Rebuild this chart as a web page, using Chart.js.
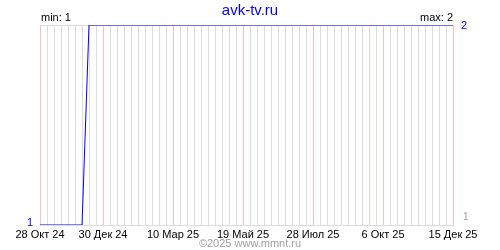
<!DOCTYPE html>
<html lang="ru">
<head>
<meta charset="UTF-8">
<title>avk-tv.ru</title>
<script src="https://cdn.jsdelivr.net/npm/chart.js"></script>
<style>
  body { margin: 0; background: #fff; }
  #wrap { width: 500px; height: 250px; }
</style>
</head>
<body>
<div id="wrap"><canvas id="graf" width="500" height="250"></canvas></div>
<script>
// данные графика
var startDate = '2024-10-28';
var endDate = '2025-12-15';
var dates = ['2024-10-28', '2024-12-09', '2024-12-16', '2025-12-15'];
var values = [1, 1, 2, 2];
var tickDates = ['2024-10-28', '2024-12-30', '2025-03-10', '2025-05-19', '2025-07-28', '2025-10-06', '2025-12-15'];
var tickLabels = ['28 Окт 24', '30 Дек 24', '10 Мар 25', '19 Май 25', '28 Июл 25', '6 Окт 25', '15 Дек 25'];
var titleText = 'avk-tv.ru';
var footerText = '©2025 www.mmnt.ru';

function dayOf(s) {
    var p = s.split('-');
    var t0 = startDate.split('-');
    return Math.round((Date.UTC(+p[0], p[1] - 1, +p[2]) - Date.UTC(+t0[0], t0[1] - 1, +t0[2])) / 86400000);
}

var points = dates.map(function(d, i) { return { x: dayOf(d), y: values[i] }; });
var tickDays = tickDates.map(dayOf);
var lastDay = dayOf(endDate);
var vMin = Math.min.apply(null, values);
var vMax = Math.max.apply(null, values);

var FONT = '"Liberation Sans", Arial, sans-serif';

// подписи: заголовок, min/max, значения оси
var textPlugin = {
    id: 'texts',
    afterDraw: function(chart) {
        var c = chart.ctx, a = chart.chartArea, y = chart.scales.y;
        c.save();
        c.textBaseline = 'alphabetic';
        c.fillStyle = '#0000ff';
        c.font = '15px ' + FONT;
        c.textAlign = 'center';
        c.fillText(titleText, 250, 15);

        c.fillStyle = '#000';
        c.font = '11px ' + FONT;
        c.textAlign = 'left';
        c.fillText('min: ' + vMin, a.left + 1, a.top - 4);
        c.textAlign = 'right';
        c.fillText('max: ' + vMax, a.right, a.top - 4);

        c.fillStyle = '#0000ff';
        c.textAlign = 'right';
        c.fillText(String(vMin), a.left - 7, y.getPixelForValue(vMin) + 1);
        c.textAlign = 'left';
        c.fillText(String(vMax), a.right + 8, y.getPixelForValue(vMax) + 4);

        c.fillStyle = '#a0a0a0';
        c.font = '10px ' + FONT;
        c.fillText(String(vMin), a.right + 10, y.getPixelForValue(vMin) - 5);

        c.font = '11px ' + FONT;
        c.textAlign = 'center';
        c.fillText(footerText, 250, 247);
        c.restore();
    }
};

var ctx = document.getElementById('graf').getContext('2d');
var chart = new Chart(ctx, {
    type: 'line',
    data: {
        datasets: [{
            data: points,
            borderColor: '#0000ff',
            borderWidth: 1,
            pointRadius: 0,
            tension: 0,
            fill: false
        }]
    },
    options: {
        responsive: false,
        animation: false,
        events: [],
        layout: { padding: { left: 40, right: 47, top: 25, bottom: 0 } },
        plugins: {
            legend: { display: false },
            tooltip: { enabled: false },
            title: { display: false }
        },
        scales: {
            // недельная сетка
            x: {
                type: 'linear',
                position: 'bottom',
                min: 0,
                max: lastDay,
                afterFit: function(s) { s.height = 0; s.paddingLeft = 0; s.paddingRight = 0; },
                border: { display: true, color: '#dcdcdc' },
                grid: { drawTicks: false, color: '#dcdcdc' },
                ticks: { stepSize: 7, autoSkip: false, display: false }
            },
            // подписи дат и розовые линии
            xl: {
                type: 'linear',
                position: 'bottom',
                min: 0,
                max: lastDay,
                afterBuildTicks: function(s) {
                    s.ticks = tickDays.map(function(d) { return { value: d }; });
                },
                afterFit: function(s) { s.height = 25; s.paddingLeft = 0; s.paddingRight = 0; },
                border: { display: false },
                grid: { drawTicks: false, color: '#ffbcbc' },
                ticks: {
                    autoSkip: false,
                    maxRotation: 0,
                    padding: 3,
                    color: '#000',
                    font: { family: FONT, size: 11 },
                    callback: function(v) {
                        var i = tickDays.indexOf(Math.round(v));
                        return i >= 0 ? tickLabels[i] : '';
                    }
                }
            },
            y: {
                min: vMin,
                max: vMax,
                afterFit: function(s) { s.width = 0; },
                border: { display: false },
                grid: { drawTicks: false, color: '#dcdcdc' },
                ticks: { display: false, stepSize: 1 }
            }
        }
    },
    plugins: [textPlugin]
});
</script>
</body>
</html>
